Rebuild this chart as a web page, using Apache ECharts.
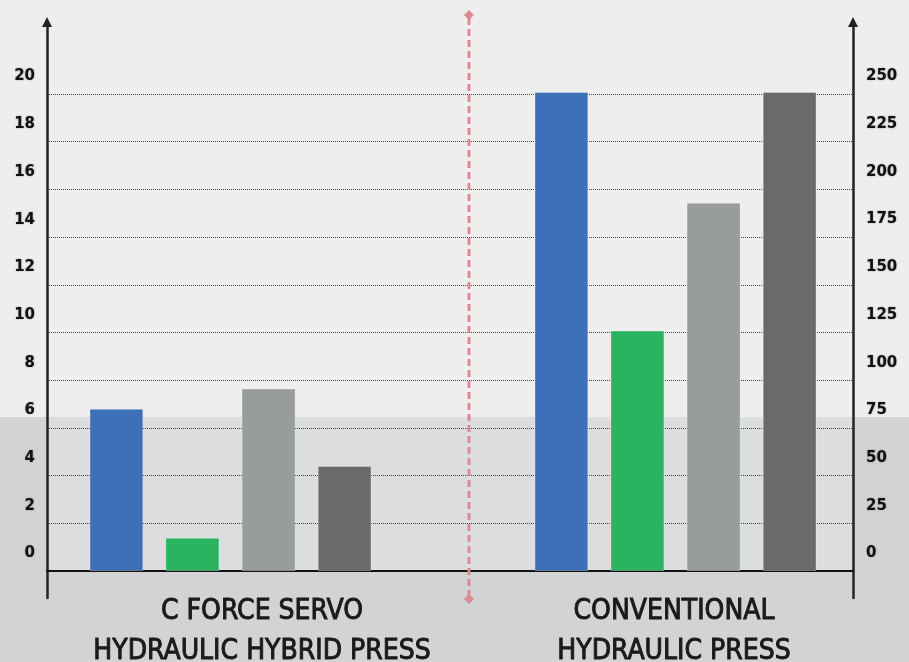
<!DOCTYPE html>
<html>
<head>
<meta charset="utf-8">
<script src="https://cdn.jsdelivr.net/npm/echarts@6/dist/echarts.min.js"></script>
<style>
  html, body { margin: 0; padding: 0; background: #eeeeee; }
  #main { width: 909px; height: 662px; }
</style>
</head>
<body>
<div id="main"></div>
<script>
// categories (two press types)
var categories = ['C FORCE SERVO\nHYDRAULIC HYBRID PRESS', 'CONVENTIONAL\nHYDRAULIC PRESS'];
// tick labels
var leftTicks = [0, 2, 4, 6, 8, 10, 12, 14, 16, 18, 20];
var rightTicks = [0, 25, 50, 75, 100, 125, 150, 175, 200, 225, 250];
// values, read on the left scale for the servo press, right scale for the conventional one
var servoValues = [6.8, 1.4, 7.65, 4.4];
var conventionalValues = [251, 126, 193, 251];
var barColors = ['#3d70b8', '#2ab45f', '#999c9c', '#6a6a6a'];

// axis ranges: axis lines run a bit under zero and above the top tick
var leftMin = -1.13, leftMax = 23.02;
var rightMin = -14.15, rightMax = 287.7;

var chart = echarts.init(document.getElementById('main'));

var tickLabel = {
  fontFamily: 'DejaVu Sans',
  fontWeight: 'bold',
  fontSize: 15,
  color: '#111',
  verticalAlign: 'bottom',
  padding: [0, 0, 10, 0],
  textShadowColor: 'rgba(0,0,0,0.35)',
  textShadowBlur: 2
};

var series = [];
servoValues.forEach(function (v, i) {
  series.push({
    type: 'bar', xAxisIndex: 1, yAxisIndex: 2,
    barWidth: 54, barGap: '41%',
    itemStyle: { color: barColors[i], borderColor: 'rgba(255,255,255,0.3)', borderWidth: 1 },
    data: [v]
  });
});
conventionalValues.forEach(function (v, i) {
  series.push({
    type: 'bar', xAxisIndex: 2, yAxisIndex: 3,
    barWidth: 54, barGap: '41%',
    itemStyle: { color: barColors[i], borderColor: 'rgba(255,255,255,0.3)', borderWidth: 1 },
    data: [v]
  });
});

chart.setOption({
  backgroundColor: '#eeeeee',
  animation: false,
  graphic: [
    { type: 'rect', z: -10, shape: { x: 0, y: 417, width: 909, height: 245 }, style: { fill: '#d2d3d5' } },
    { type: 'rect', z: -9, shape: { x: 47, y: 417, width: 806, height: 154 }, style: { fill: '#dcdddf' } },
    { type: 'line', z: 10, shape: { x1: 469, y1: 18, x2: 469, y2: 597 }, style: { stroke: '#dc8a8f', lineWidth: 3, lineDash: [7, 4] } },
    { type: 'polygon', z: 10, shape: { points: [[469, 10], [474, 15], [469, 20], [464, 15]] }, style: { fill: '#dc8a8f' } },
    { type: 'polygon', z: 10, shape: { points: [[469, 594], [474, 599], [469, 604], [464, 599]] }, style: { fill: '#dc8a8f' } }
  ],
  grid: [
    { left: 47, right: 56, top: 22, bottom: 64, outerBoundsMode: 'none' },   // visible axes
    { left: 90, right: 538, top: 22, bottom: 64, outerBoundsMode: 'none' },  // servo bars
    { left: 535, right: 93, top: 22, bottom: 64, outerBoundsMode: 'none' },  // conventional bars
    { left: 56, right: 29, top: 22, bottom: 91, outerBoundsMode: 'none' }    // category labels
  ],
  xAxis: [
    {
      gridIndex: 0, type: 'category', data: categories,
      axisLine: { onZero: true, lineStyle: { color: '#111', width: 2 } },
      axisTick: { show: false }, axisLabel: { show: false }, splitLine: { show: false }
    },
    { gridIndex: 1, type: 'category', data: [categories[0]], show: false },
    { gridIndex: 2, type: 'category', data: [categories[1]], show: false },
    {
      gridIndex: 3, type: 'category', data: categories,
      axisLine: { show: false }, axisTick: { show: false },
      axisLabel: {
        interval: 0,
        hideOverlap: false,
        margin: 21,
        fontFamily: "'Liberation Sans Narrow', 'DejaVu Sans Condensed', sans-serif",
        fontSize: 28,
        lineHeight: 40,
        color: '#1a1a1a',
        textBorderColor: '#1a1a1a',
        textBorderWidth: 0.9
      }
    }
  ],
  yAxis: [
    {
      gridIndex: 0, type: 'value', position: 'left', min: leftMin, max: leftMax,
      axisLine: { show: true, symbol: ['none', 'triangle'], symbolSize: [10, 10], lineStyle: { color: '#222', width: 2.5 } },
      axisTick: { show: false, customValues: leftTicks },
      axisLabel: Object.assign({ customValues: leftTicks, margin: 12 }, tickLabel),
      splitLine: { show: true, lineStyle: { type: 'dotted', color: '#444', width: 1 } }
    },
    {
      gridIndex: 0, type: 'value', position: 'right', min: rightMin, max: rightMax,
      axisLine: { show: true, symbol: ['none', 'triangle'], symbolSize: [10, 10], lineStyle: { color: '#222', width: 2.5 } },
      axisTick: { show: false, customValues: rightTicks },
      axisLabel: Object.assign({ customValues: rightTicks, margin: 13 }, tickLabel),
      splitLine: { show: false }
    },
    { gridIndex: 1, type: 'value', min: leftMin, max: leftMax, show: false, splitLine: { show: false } },
    { gridIndex: 2, type: 'value', min: rightMin, max: rightMax, show: false, splitLine: { show: false } },
    { gridIndex: 3, type: 'value', min: 0, max: 1, show: false, splitLine: { show: false } }
  ],
  series: series
});
</script>
</body>
</html>
